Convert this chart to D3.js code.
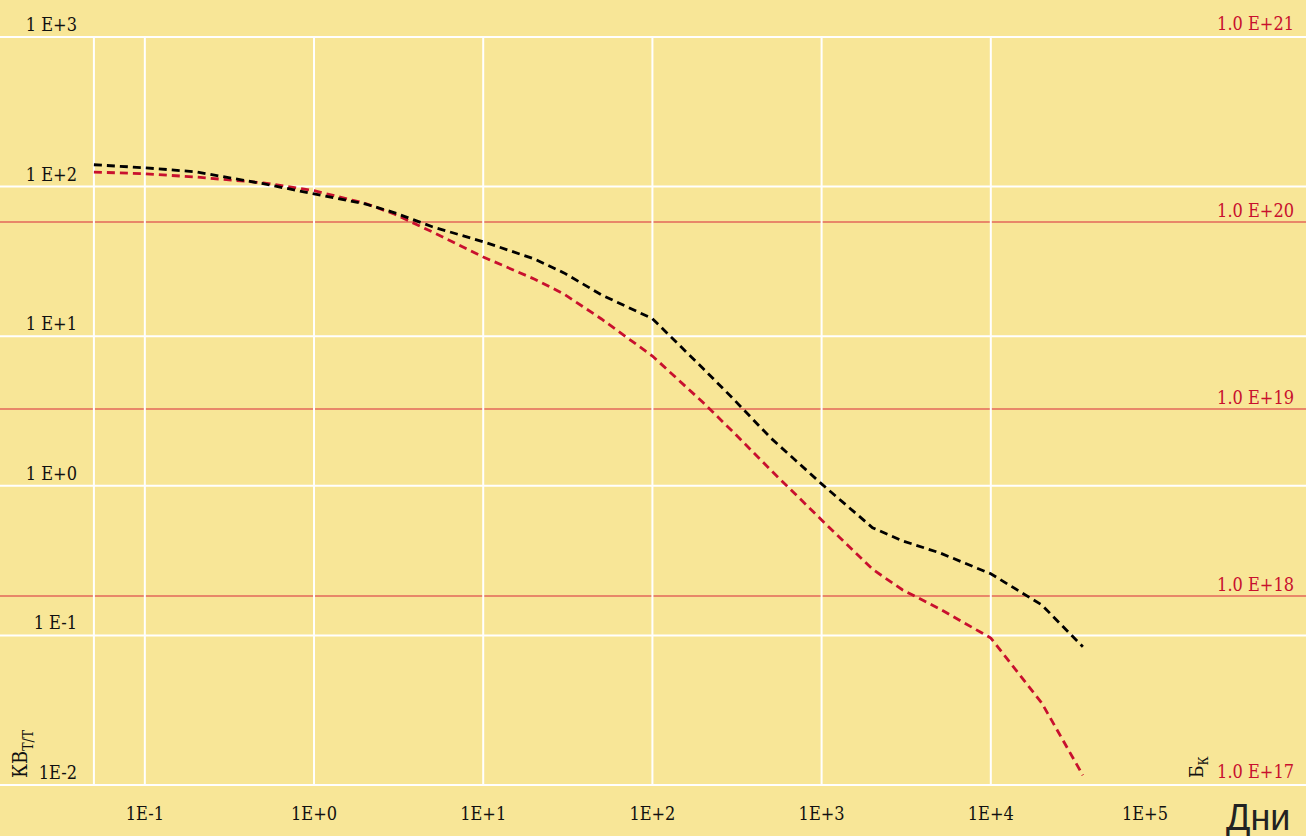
<!DOCTYPE html>
<html>
<head>
<meta charset="utf-8">
<script src="https://cdn.jsdelivr.net/npm/d3@7/dist/d3.min.js"></script>
<style>
  html, body { margin: 0; padding: 0; background: #f8e697; }
  svg { display: block; }
</style>
</head>
<body>
<svg id="chart" width="1306" height="836"></svg>
<script>
// Time after shutdown, days
const days = [0.05, 0.1, 0.2, 0.5, 1, 2, 3, 5, 10, 20, 30, 50, 100, 200, 300, 500,
              1000, 2000, 3000, 5000, 10000, 20000, 35000];

// Specific power, kW per tonne (left axis)
const powerKW = [140, 133.6, 125.6, 104.5, 89.5, 76.7, 66.8, 53.9, 42.8, 32.9, 26.5, 18.9,
                 13.1, 6.06, 3.82, 2.09, 1.03, 0.524, 0.429, 0.356, 0.258, 0.160, 0.0839];

// Activity, Bq (right axis)
const activityBq = [1.85e20, 1.81e20, 1.74e20, 1.62e20, 1.47e20, 1.26e20, 1.10e20, 8.85e19,
                    6.50e19, 4.96e19, 4.12e19, 3.03e19, 1.92e19, 1.08e19, 7.53e18, 4.72e18,
                    2.55e18, 1.39e18, 1.08e18, 8.52e17, 5.96e17, 2.68e17, 1.10e17];

const xTicks = [0.1, 1, 10, 100, 1000, 10000, 100000];
const xTickLabels = ["1E-1", "1E+0", "1E+1", "1E+2", "1E+3", "1E+4", "1E+5"];
const leftTicks = [1e3, 1e2, 1e1, 1e0, 1e-1, 1e-2];
const leftTickLabels = ["1 E+3", "1 E+2", "1 E+1", "1 E+0", "1 E-1", "1E-2"];
const rightTicks = [1e21, 1e20, 1e19, 1e18, 1e17];
const rightTickLabels = ["1.0 E+21", "1.0 E+20", "1.0 E+19", "1.0 E+18", "1.0 E+17"];

const W = 1306, H = 836;
const svg = d3.select("#chart");
const serif = "'DejaVu Serif Condensed', 'DejaVu Serif', serif";
const crimson = "#c8102e";

const x = d3.scaleLog().domain([0.05, 100000]).range([93.9, 1160]);
const yL = d3.scaleLog().domain([1e-2, 1e3]).range([785, 37]);
const yR = d3.scaleLog().domain([1e17, 1e21]).range([783, 35]);

svg.append("rect").attr("width", W).attr("height", H).attr("fill", "#f8e697");

// Activity decade lines
const rInner = rightTicks.filter(v => v > 1e17 && v < 1e21);
svg.append("g").selectAll("line").data(rInner).join("line")
  .attr("x1", 0).attr("x2", W)
  .attr("y1", d => yR(d)).attr("y2", d => yR(d))
  .attr("stroke", "#d8283c").attr("stroke-width", 1.2);

// White grid: horizontal across the full width, vertical inside the plot
svg.append("g").selectAll("line").data(leftTicks).join("line")
  .attr("x1", 0).attr("x2", W)
  .attr("y1", d => yL(d)).attr("y2", d => yL(d))
  .attr("stroke", "#ffffff").attr("stroke-width", 2);

const vGrid = [x.domain()[0]].concat(xTicks.filter(v => v <= 10000));
svg.append("g").selectAll("line").data(vGrid).join("line")
  .attr("x1", d => x(d)).attr("x2", d => x(d))
  .attr("y1", yL(1e3)).attr("y2", yL(1e-2))
  .attr("stroke", "#ffffff").attr("stroke-width", 2);

const labelFont = sel => sel
  .attr("font-family", serif).attr("font-stretch", "condensed").attr("font-size", 18);

// Left tick labels
svg.append("g").selectAll("text").data(leftTicks).join("text")
  .attr("x", 77).attr("y", d => yL(d) - 6)
  .attr("text-anchor", "end").attr("fill", "#111")
  .call(labelFont)
  .text((d, i) => leftTickLabels[i]);

// Right tick labels
svg.append("g").selectAll("text").data(rightTicks).join("text")
  .attr("x", 1294).attr("y", d => yR(d) - 5)
  .attr("text-anchor", "end").attr("fill", crimson)
  .call(labelFont)
  .text((d, i) => rightTickLabels[i]);

// Bottom tick labels
svg.append("g").selectAll("text").data(xTicks).join("text")
  .attr("x", d => x(d) - (d >= 100000 ? 15 : 0)).attr("y", 820)
  .attr("text-anchor", "middle").attr("fill", "#111")
  .call(labelFont)
  .text((d, i) => xTickLabels[i]);

// Curves
const pts = (vals, ys) => days.map((d, i) => [x(d), ys(vals[i])]);
const line = d3.line().curve(d3.curveLinear);

svg.append("path").attr("d", line(pts(activityBq, yR)))
  .attr("fill", "none").attr("stroke", crimson).attr("stroke-width", 2.8)
  .attr("stroke-dasharray", "8,5");

svg.append("path").attr("d", line(pts(powerKW, yL)))
  .attr("fill", "none").attr("stroke", "#000").attr("stroke-width", 2.8)
  .attr("stroke-dasharray", "8,5");

// Axis titles
const tL = svg.append("text")
  .attr("transform", "translate(27,778) rotate(-90)")
  .attr("font-family", serif).attr("font-stretch", "condensed")
  .attr("font-size", 20).attr("fill", "#111");
tL.append("tspan").text("КВ");
tL.append("tspan").attr("dy", 6).attr("font-size", 14).text("Т/Т");

const tR = svg.append("text")
  .attr("transform", "translate(1203,778) rotate(-90)")
  .attr("font-family", serif).attr("font-stretch", "condensed")
  .attr("font-size", 19).attr("fill", "#111");
tR.append("tspan").text("Б");
tR.append("tspan").attr("dy", 5).attr("font-size", 13).text("К");

svg.append("text")
  .attr("x", 1226).attr("y", 830)
  .attr("font-family", "'Liberation Sans', Arial, sans-serif")
  .attr("font-size", 36).attr("fill", "#222")
  .text("Дни");
</script>
</body>
</html>
